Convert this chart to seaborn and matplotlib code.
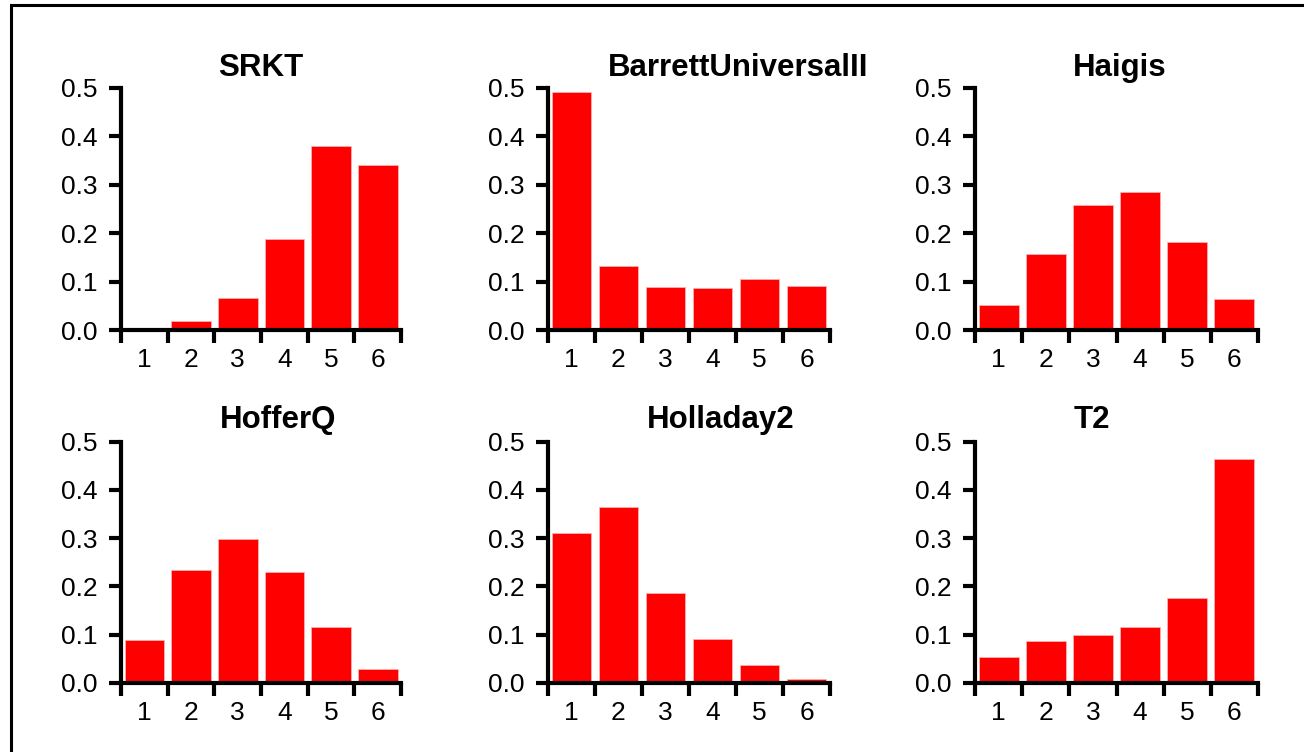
import numpy as np
import pandas as pd
import matplotlib
matplotlib.use("Agg")
import matplotlib.pyplot as plt
import seaborn as sns
from matplotlib.patches import Rectangle

# data
categories = ["1", "2", "3", "4", "5", "6"]
formulas = ["SRKT", "BarrettUniversalII", "Haigis", "HofferQ", "Holladay2", "T2"]

srkt = [0.0, 0.019, 0.066, 0.188, 0.380, 0.340]
barrett = [0.492, 0.133, 0.089, 0.086, 0.105, 0.091]
haigis = [0.051, 0.157, 0.258, 0.285, 0.182, 0.064]
hofferq = [0.090, 0.235, 0.299, 0.230, 0.117, 0.028]
holladay2 = [0.310, 0.365, 0.187, 0.092, 0.038, 0.008]
t2 = [0.054, 0.088, 0.099, 0.116, 0.176, 0.465]

y_ticks = [0.0, 0.1, 0.2, 0.3, 0.4, 0.5]

values = [srkt, barrett, haigis, hofferq, holladay2, t2]

sns.set_style("white")
plt.rcParams["font.family"] = ["Liberation Sans", "DejaVu Sans"]

W, H = 1304, 752
fig = plt.figure(figsize=(W / 100, H / 100), dpi=100)

# layout in pixels (left, top of 0.5, bottom at 0.0)
col_left = [121, 548, 975]
col_width = [280, 282, 283]
row_top = [87.7, 441.7]
row_bottom = [330, 683]
title_cx = [261, 738, 1120, 278, 721, 1092]
title_cy = [68, 68, 68, 420, 420, 420]

# outer frame
fig.add_artist(Rectangle((11 / W, 0 - 0.01), 1.1, (H - 5) / H + 0.01,
                         transform=fig.transFigure, fill=False,
                         edgecolor="black", linewidth=2.2))

for i, (name, vals) in enumerate(zip(formulas, values)):
    r, c = divmod(i, 3)
    left = col_left[c] / W
    bottom = 1 - row_bottom[r] / H
    width = col_width[c] / W
    height = (row_bottom[r] - row_top[r]) / H
    ax = fig.add_axes([left, bottom, width, height])

    df = pd.DataFrame({"cat": categories, "val": vals})
    sns.barplot(data=df, x="cat", y="val", color="#ff0000", saturation=1,
                width=0.85, edgecolor="#ffb0b0", linewidth=0.6, ax=ax)

    ax.set_xlim(-0.5, 5.5)
    ax.set_ylim(0, 0.5)
    ax.set_xlabel("")
    ax.set_ylabel("")

    for s in ["top", "right"]:
        ax.spines[s].set_visible(False)
    for s in ["left", "bottom"]:
        ax.spines[s].set_linewidth(3)
        ax.spines[s].set_color("black")
        ax.spines[s].set_zorder(5)

    ax.set_yticks(y_ticks)
    ax.set_yticklabels([f"{v:.1f}" for v in y_ticks])
    ax.set_xticks(np.arange(-0.5, 6.0, 1.0))
    ax.set_xticklabels([])
    ax.set_xticks(np.arange(6), minor=True)
    ax.set_xticklabels(categories, minor=True)
    ax.tick_params(axis="x", which="major", direction="out", length=9, width=3,
                   color="black", bottom=True)
    ax.tick_params(axis="x", which="minor", length=0, labelsize=19, pad=13,
                   labelcolor="black", bottom=True)
    ax.tick_params(axis="y", direction="out", length=9, width=3, color="black",
                   labelsize=19, pad=8, labelcolor="black", left=True)
    ax.grid(False)

    fig.text(title_cx[i] / W, 1 - title_cy[i] / H, name, ha="center",
             va="center", fontsize=22.5, fontweight="bold", color="black")

fig.savefig("out.png", dpi=100, facecolor="white")
